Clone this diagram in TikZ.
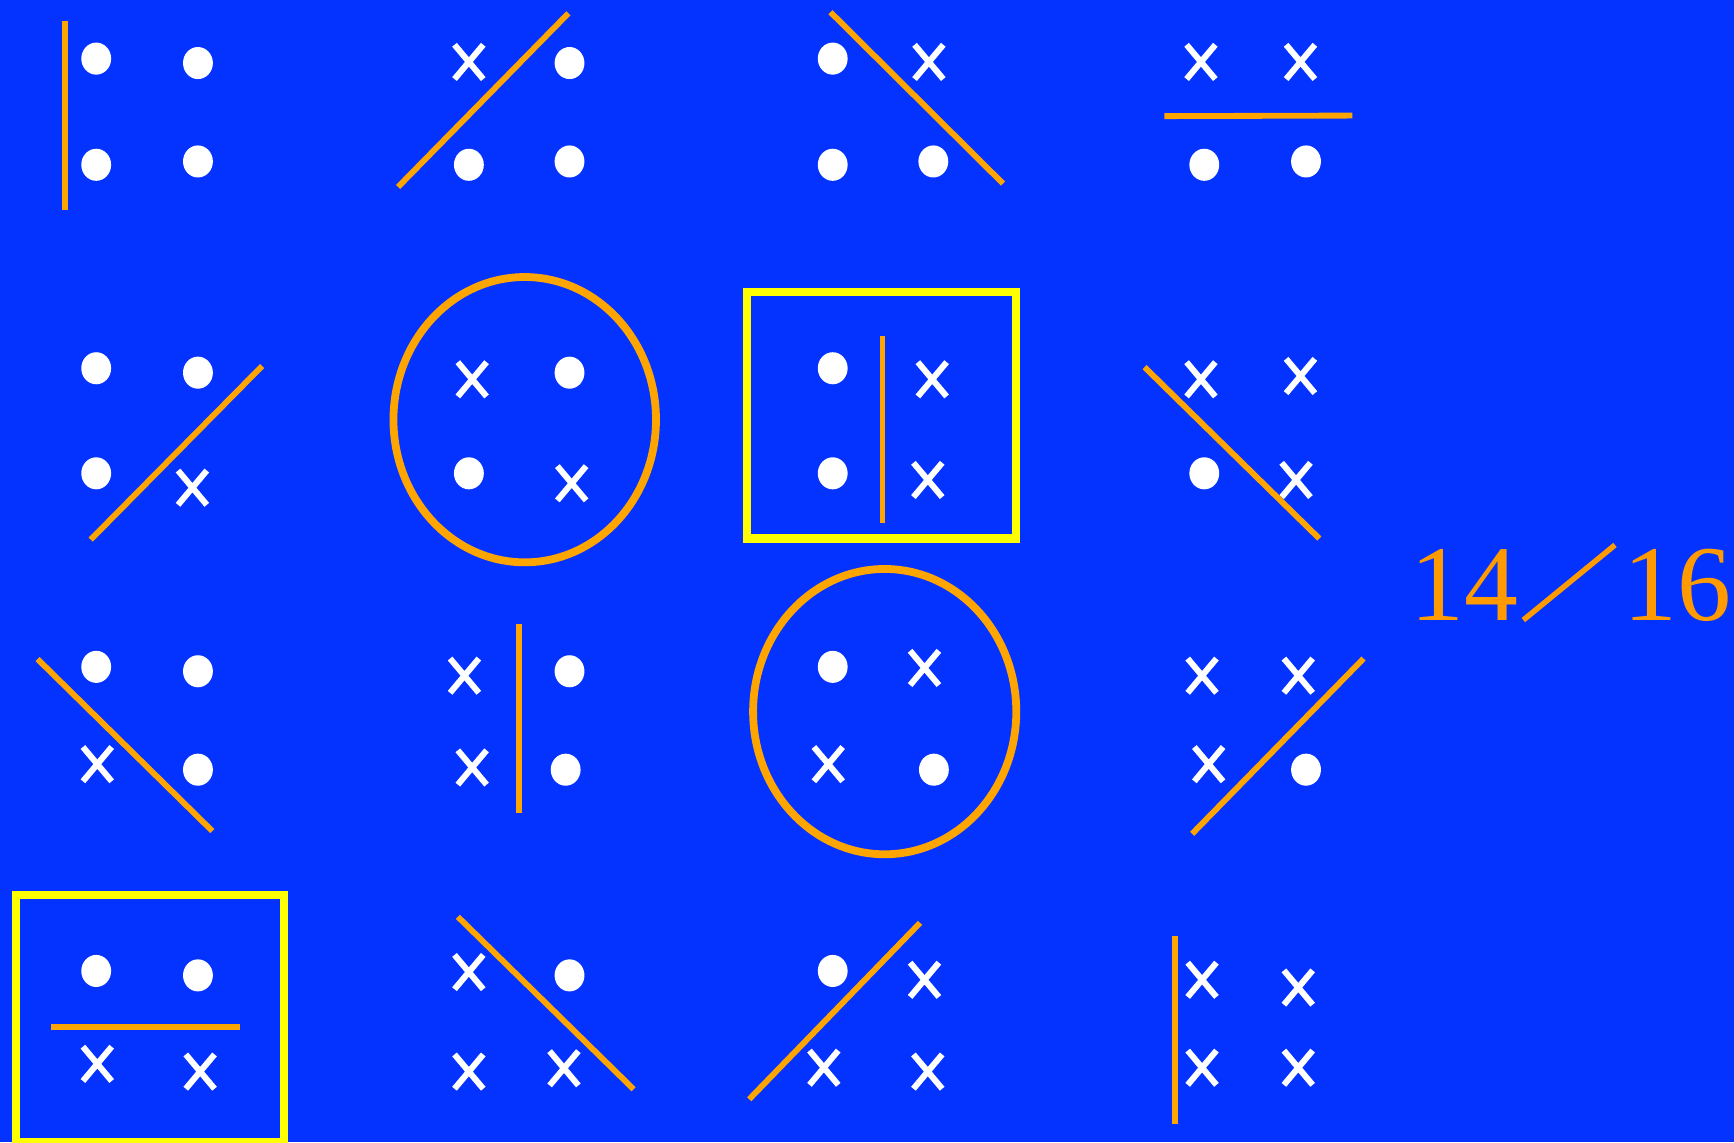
\documentclass[tikz,border=0pt]{standalone}
\usepackage{fontspec}
\setmainfont{Liberation Serif}

\definecolor{slideblue}{RGB}{4,51,255}
\definecolor{cutorange}{RGB}{255,165,0}
\definecolor{numorange}{RGB}{255,155,0}
\definecolor{boxyellow}{RGB}{255,255,0}

\begin{document}
\begin{tikzpicture}[
  x=0.01cm, y=-0.01cm,
  cut/.style={draw=cutorange, line width=1.5pt},
  ring/.style={draw=cutorange, line width=2pt},
  frame/.style={draw=boxyellow, line width=2.1pt},
  cross/.style={draw=white, line width=1.55pt},
  fraction/.style={font=\fontsize{27.7}{30}\selectfont, text=numorange,
                   inner sep=0pt, anchor=base west}
]

% one point of each class: filled dot / white cross
\newcommand{\pdot}[2]{\fill[white] (#1,#2) ellipse [x radius=13.5, y radius=14.5];}
\newcommand{\pcross}[2]{%
  \draw[cross] (#1-13,#2-15.5) -- (#1+13,#2+15.5)
               (#1-13,#2+15.5) -- (#1+13,#2-15.5);}

% slide background
\fill[slideblue] (0,0) rectangle (1568,1033);
\useasboundingbox (0,0) rectangle (1568,1033);

% row 1
\pdot{87}{53}    \pdot{179}{57}   \pdot{87}{149}   \pdot{179}{146}
\draw[cut] (59,19) -- (59,190);

\pcross{424}{56} \pdot{515}{57}   \pdot{424}{149}  \pdot{515}{146}
\draw[cut] (360,169) -- (514,12);

\pdot{753}{53}   \pcross{840}{56} \pdot{753}{149}  \pdot{844}{146}
\draw[cut] (751,11) -- (907,166);

\pcross{1086}{56} \pcross{1176}{56} \pdot{1089}{149} \pdot{1181}{146}
\draw[cut] (1053,105) -- (1223,104.5);

% row 2
\pdot{87}{333}   \pdot{179}{337}  \pdot{87}{428}   \pcross{174}{441}
\draw[cut] (82,488) -- (237,331);

\pcross{427}{343} \pdot{515}{337} \pdot{424}{428}  \pcross{517}{437}
\draw[ring] (474.5,379.5) ellipse [x radius=118.7, y radius=129];

\pdot{753}{333}  \pcross{843}{343} \pdot{753}{428} \pcross{839}{434}
\draw[cut] (798,304) -- (798,473);
\draw[frame] (675.5,264) rectangle (918.5,487);

\pcross{1086}{343} \pcross{1176}{340} \pdot{1089}{428} \pcross{1172}{434}
\draw[cut] (1035,332) -- (1193,487);

% row 3
\pdot{87}{603}   \pdot{179}{607}  \pcross{88}{691}  \pdot{179}{696}
\draw[cut] (34,596) -- (192,751.5);

\pcross{420}{611} \pdot{515}{607} \pcross{427}{694} \pdot{511.5}{696}
\draw[cut] (469.5,564) -- (469.5,735);

\pdot{753}{603}  \pcross{836}{604} \pcross{749}{691} \pdot{844.5}{696}
\draw[ring] (800,643.5) ellipse [x radius=119, y radius=129];

\pcross{1087}{611} \pcross{1174}{611} \pcross{1093}{691} \pdot{1181}{696}
\draw[cut] (1078,754) -- (1233,595.5);

% row 4
\pdot{87}{878}   \pdot{179}{882}  \pcross{88}{962}  \pcross{181}{969}
\draw[cut] (46.5,928.5) -- (217,928.5);
\draw[frame] (14.5,809) rectangle (257,1033);

\pcross{424}{879} \pdot{515}{882} \pcross{424}{969} \pcross{510}{966}
\draw[cut] (414,829) -- (573,985);

\pdot{753}{878}  \pcross{836}{886} \pcross{745}{965.5} \pcross{839}{969}
\draw[cut] (677.5,994) -- (832,834.5);

\pcross{1087}{886} \pcross{1174}{893} \pcross{1087}{965.5} \pcross{1174}{965.5}
\draw[cut] (1062.5,846) -- (1062.5,1016.5);

% score on the right
\node[fraction] (num) at (1275,561.5) {14};
\node[fraction] (den) at (1467.7,561.5) {16};
\draw[numorange, line width=1.4pt] (1377.5,560.7) -- (1460.4,492.8);

\end{tikzpicture}
\end{document}
